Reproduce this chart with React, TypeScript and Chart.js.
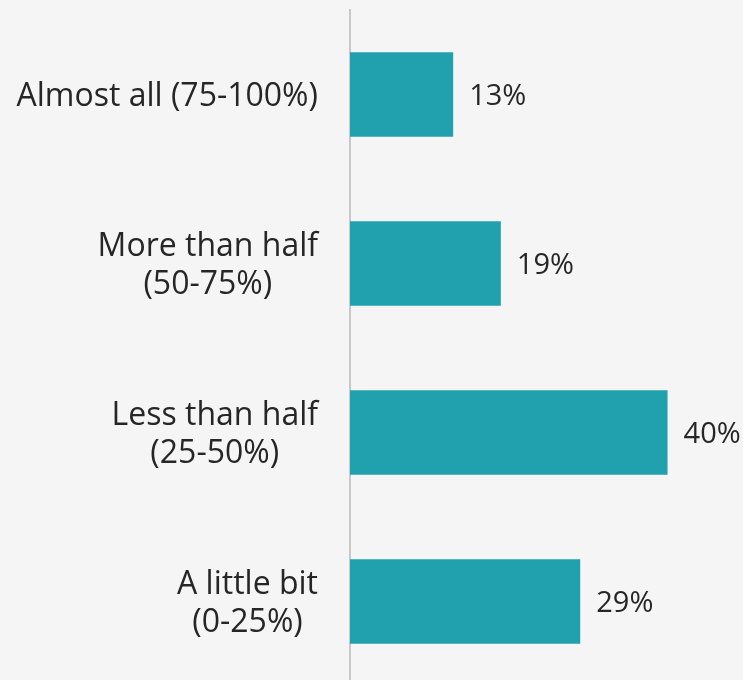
import React, { useEffect, useRef } from "react";
import { Chart, registerables } from "chart.js";

Chart.register(...registerables);

const categories: string[][] = [
  ["Almost all (75-100%)"],
  ["More than half", "(50-75%)"],
  ["Less than half", "(25-50%)"],
  ["A little bit", "(0-25%)"],
];
const values: number[] = [13, 19, 40, 29];
const valueLabels: string[] = ["13%", "19%", "40%", "29%"];

const FONT = "'Open Sans', sans-serif";
const TEXT_COLOR = "#262626";
const BAR_COLOR = "#21a0ae";
const BG = "#f5f5f5";
const CAT_SIZE = 32;
const VAL_SIZE = 29;
const LINE_H = 38;

const labelPlugin = {
  id: "valueLabels",
  afterDatasetsDraw(chart: any) {
    const ctx = chart.ctx;
    const meta = chart.getDatasetMeta(0);
    const yScale = chart.scales.y;
    ctx.save();
    // value labels
    ctx.font = `${VAL_SIZE}px ${FONT}`;
    ctx.fillStyle = TEXT_COLOR;
    ctx.textAlign = "left";
    ctx.textBaseline = "middle";
    meta.data.forEach((bar: any, i: number) => {
      ctx.fillText(valueLabels[i], bar.x + 16, bar.y + 2);
    });
    // category labels: block right-aligned, lines centered within block
    ctx.font = `${CAT_SIZE}px ${FONT}`;
    ctx.textAlign = "center";
    const rightEdge = yScale.right - 32;
    categories.forEach((lines, i) => {
      const yc = yScale.getPixelForTick(i);
      const w = Math.max(...lines.map((l) => ctx.measureText(l).width));
      const cx = rightEdge - w / 2;
      const y0 = yc - ((lines.length - 1) * LINE_H) / 2 + 2;
      lines.forEach((l, j) => ctx.fillText(l, cx, y0 + j * LINE_H));
    });
    ctx.restore();
  },
};

const bgPlugin = {
  id: "bg",
  beforeDraw(chart: any) {
    const ctx = chart.ctx;
    ctx.save();
    ctx.fillStyle = BG;
    ctx.fillRect(0, 0, chart.width, chart.height);
    ctx.restore();
  },
};

export default function App() {
  const ref = useRef<HTMLCanvasElement>(null);
  useEffect(() => {
    document.body.style.margin = "0";
    document.body.style.background = BG;
    const chart = new Chart(ref.current!, {
      type: "bar",
      data: {
        labels: categories,
        datasets: [
          {
            data: values,
            backgroundColor: BAR_COLOR,
            borderWidth: 0,
            barPercentage: 1,
            categoryPercentage: 0.5,
          },
        ],
      },
      options: {
        indexAxis: "y",
        animation: false,
        responsive: false,
        maintainAspectRatio: false,
        layout: { padding: { top: 10, bottom: 4, right: 4, left: 0 } },
        plugins: {
          legend: { display: false },
          tooltip: { enabled: false },
        },
        scales: {
          x: { display: false, min: 0, max: 49 },
          y: {
            afterFit(scale: any) {
              scale.width = 350;
              scale.paddingTop = 0;
              scale.paddingBottom = 0;
            },
            grid: { display: false, drawTicks: false },
            border: { display: true, color: "#c8c8c8", width: 2 },
            ticks: { display: false },
          },
        },
      },
      plugins: [bgPlugin, labelPlugin],
    });
    return () => chart.destroy();
  }, []);
  return (
    <div style={{ position: "absolute", left: 0, top: 0, width: 743, height: 690, background: BG }}>
      <canvas ref={ref} width={743} height={690} style={{ width: 743, height: 690, display: "block" }} />
    </div>
  );
}
